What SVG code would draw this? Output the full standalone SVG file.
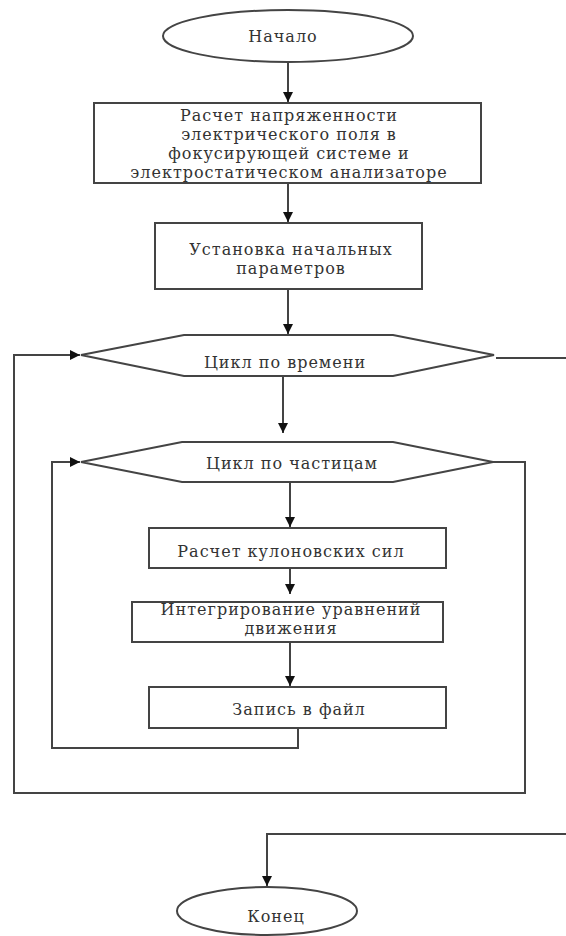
<svg xmlns="http://www.w3.org/2000/svg" width="566" height="936" viewBox="0 0 566 936">
  <style>
    .shape { fill: #ffffff; stroke: #444444; stroke-width: 2; }
    .line { fill: none; stroke: #444444; stroke-width: 2; }
    .lbl { font-family: "DejaVu Serif", "Liberation Serif", serif; font-size: 16px; letter-spacing: 1px; fill: #333333; text-anchor: middle; }
  </style>
  <defs>
    <marker id="arr" viewBox="0 0 10 10" refX="10" refY="5" markerWidth="10" markerHeight="10" markerUnits="userSpaceOnUse" orient="auto">
      <path d="M0,0 L10,5 L0,10 Z" fill="#111111"/>
    </marker>
  </defs>
  <rect width="566" height="936" fill="#ffffff"/>

  <g id="connectors">
    <line class="line" x1="288" y1="62" x2="288" y2="102" marker-end="url(#arr)"/>
    <line class="line" x1="288" y1="183" x2="288" y2="222" marker-end="url(#arr)"/>
    <line class="line" x1="288" y1="289" x2="288" y2="334" marker-end="url(#arr)"/>
    <line class="line" x1="283" y1="376" x2="283" y2="433" marker-end="url(#arr)"/>
    <line class="line" x1="290" y1="478" x2="290" y2="527" marker-end="url(#arr)"/>
    <line class="line" x1="290" y1="563" x2="290" y2="594" marker-end="url(#arr)"/>
    <line class="line" x1="290" y1="640" x2="290" y2="686" marker-end="url(#arr)"/>
    <polyline class="line" points="298,722 298,748 52,748 52,462 80,462" marker-end="url(#arr)"/>
    <polyline class="line" points="493,462 525,462 525,793 14,793 14,355 80,355" marker-end="url(#arr)"/>
    <line class="line" x1="496" y1="358" x2="566" y2="358"/>
    <polyline class="line" points="566,834 267,834 267,886" marker-end="url(#arr)"/>
  </g>

  <g id="start">
    <ellipse class="shape" cx="288" cy="36" rx="125" ry="26"/>
    <text class="lbl" x="283" y="42">Начало</text>
  </g>

  <g id="calc-field">
    <rect class="shape" x="94" y="103" width="387" height="80"/>
    <text class="lbl" x="289" y="121">Расчет напряженности</text>
    <text class="lbl" x="289" y="140">электрического поля в</text>
    <text class="lbl" x="289" y="159">фокусирующей системе и</text>
    <text class="lbl" x="289" y="178">электростатическом анализаторе</text>
  </g>

  <g id="init">
    <rect class="shape" x="155" y="223" width="267" height="66"/>
    <text class="lbl" x="291" y="255">Установка начальных</text>
    <text class="lbl" x="291" y="274">параметров</text>
  </g>

  <g id="time-loop">
    <polygon class="shape" points="81,355 184,335 393,335 494,355 393,376 184,376"/>
    <text class="lbl" x="285" y="368">Цикл по времени</text>
  </g>

  <g id="particle-loop">
    <polygon class="shape" points="81,462 182,442 393,442 493,462 393,482 182,482"/>
    <text class="lbl" x="292" y="469">Цикл по частицам</text>
  </g>

  <g id="coulomb">
    <rect class="shape" x="149" y="528" width="297" height="40"/>
    <text class="lbl" x="291" y="557">Расчет кулоновских сил</text>
  </g>

  <g id="integrate">
    <rect class="shape" x="132" y="602" width="311" height="40"/>
    <text class="lbl" x="291" y="615">Интегрирование уравнений</text>
    <text class="lbl" x="291" y="634">движения</text>
  </g>

  <g id="write">
    <rect class="shape" x="149" y="687" width="297" height="41"/>
    <text class="lbl" x="299" y="715">Запись в файл</text>
  </g>

  <g id="end">
    <ellipse class="shape" cx="267" cy="911" rx="90" ry="24"/>
    <text class="lbl" x="276" y="922">Конец</text>
  </g>
</svg>
